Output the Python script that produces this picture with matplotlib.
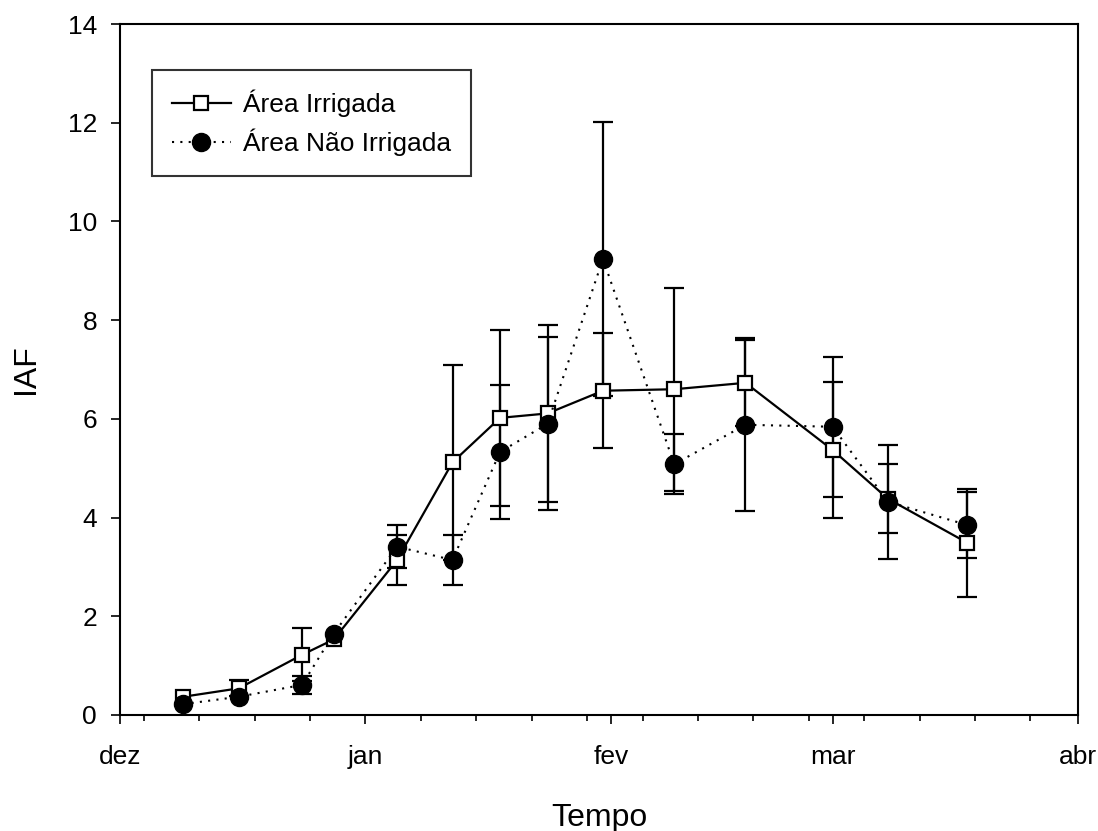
import matplotlib
matplotlib.use("Agg")
import matplotlib.pyplot as plt
import matplotlib.dates as mdates
import numpy as np

plt.rcParams["font.family"] = ["Liberation Sans", "DejaVu Sans"]

# datas das coletas
datas = np.array([
    "2009-12-09", "2009-12-16", "2009-12-24", "2009-12-28", "2010-01-05",
    "2010-01-12", "2010-01-18", "2010-01-24", "2010-01-31", "2010-02-09",
    "2010-02-18", "2010-03-01", "2010-03-08", "2010-03-18",
], dtype="datetime64[D]")

iaf_irrigada = [0.37, 0.54, 1.22, 1.53, 3.14, 5.12, 6.02, 6.11, 6.57, 6.60, 6.73, 5.37, 4.38, 3.49]
erro_irrigada = [np.nan, 0.16, 0.54, np.nan, 0.51, 1.98, 1.78, 1.80, 1.17, 2.06, 0.87, 1.38, 0.70, 1.09]

iaf_nao_irrigada = [0.22, 0.37, 0.61, 1.65, 3.41, 3.14, 5.33, 5.90, 9.24, 5.08, 5.88, 5.84, 4.32, 3.85]
erro_nao_irrigada = [np.nan, np.nan, 0.19, np.nan, 0.43, 0.50, 1.36, 1.75, 2.78, 0.61, 1.75, 1.42, 1.16, 0.67]

meses_pt = {12: "dez", 1: "jan", 2: "fev", 3: "mar", 4: "abr"}

x = datas.astype("datetime64[ms]").astype(object)

fig = plt.figure(figsize=(10.98, 8.31), dpi=100)
ax = fig.add_axes([120 / 1098, 1 - 715 / 831, 958 / 1098, 691 / 831])

# barras de erro atrás dos marcadores
for y, e in ((iaf_irrigada, erro_irrigada), (iaf_nao_irrigada, erro_nao_irrigada)):
    ax.errorbar(x, y, yerr=e, fmt="none", ecolor="black", elinewidth=1.6,
                capsize=7.5, capthick=1.6, zorder=2)

(l_irr,) = ax.plot(x, iaf_irrigada, "-", color="black", lw=1.6, marker="s",
                   markersize=10, markerfacecolor="white", markeredgecolor="black",
                   markeredgewidth=1.6, label="Área Irrigada", zorder=3)
(l_nao,) = ax.plot(x, iaf_nao_irrigada, linestyle=(0, (1, 3)), color="black", lw=1.5,
                   marker="o", markersize=13, markerfacecolor="black",
                   markeredgecolor="black", label="Área Não Irrigada", zorder=4)

ax.set_xlim(np.datetime64("2009-12-01").astype(object), np.datetime64("2010-04-01").astype(object))
ax.set_ylim(0, 14)
ax.set_yticks(np.arange(0, 15, 2))

ax.xaxis.set_major_locator(mdates.MonthLocator())
ax.xaxis.set_minor_locator(mdates.WeekdayLocator(byweekday=mdates.FR))
ax.xaxis.set_major_formatter(plt.FuncFormatter(lambda v, pos: meses_pt[mdates.num2date(v).month]))

for s in ax.spines.values():
    s.set_linewidth(1.5)
ax.tick_params(axis="both", which="major", direction="out", length=6.5, width=1.2,
               labelsize=19, top=False, right=False)
ax.tick_params(axis="x", which="major", pad=15)
ax.tick_params(axis="y", which="major", pad=10)
ax.tick_params(axis="x", which="minor", direction="out", length=4.5, width=1.2)

ax.set_xlabel("Tempo", fontsize=23)
ax.set_ylabel("IAF", fontsize=23)
ax.xaxis.set_label_coords(0.5, -0.127)
ax.yaxis.set_label_coords(-0.082, 0.5)

leg = ax.legend(handles=[l_irr, l_nao], loc="upper left", bbox_to_anchor=(0.0334, 0.9334),
                borderaxespad=0, fontsize=19, frameon=True, fancybox=False,
                handlelength=2.25, borderpad=0.75, labelspacing=0.42, handletextpad=0.45)
leg.get_frame().set_edgecolor("black")
leg.get_frame().set_linewidth(1.5)

fig.savefig("out.png", dpi=100)
